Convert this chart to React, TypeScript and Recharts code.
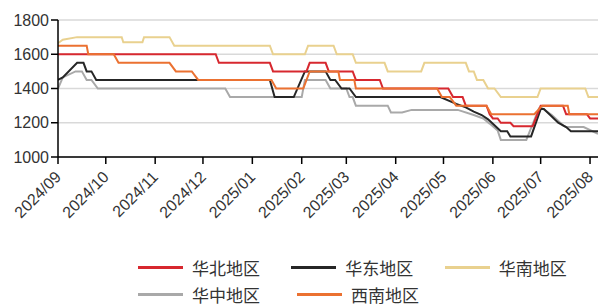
import { LineChart, Line, XAxis, YAxis, CartesianGrid, Legend } from "recharts";

type Pt = [string, number];

const monthLabels = [
  "2024/09", "2024/10", "2024/11", "2024/12", "2025/01", "2025/02",
  "2025/03", "2025/04", "2025/05", "2025/06", "2025/07", "2025/08",
];
const yTicks = [1000, 1200, 1400, 1600, 1800];
const startDate = "2024-09-01";
const endDate = "2025-08-06";

// 华北地区
const huabei: Pt[] = [
  ["2024-09-01", 1600], ["2024-12-09", 1600], ["2024-12-11", 1550], ["2025-01-12", 1550],
  ["2025-01-14", 1500], ["2025-02-04", 1500], ["2025-02-06", 1550], ["2025-02-16", 1550],
  ["2025-02-18", 1500], ["2025-03-05", 1500], ["2025-03-07", 1450], ["2025-03-22", 1450],
  ["2025-03-24", 1400], ["2025-05-04", 1400], ["2025-05-07", 1350], ["2025-05-13", 1350],
  ["2025-05-15", 1300], ["2025-05-28", 1300], ["2025-05-30", 1250], ["2025-06-01", 1225],
  ["2025-06-04", 1225], ["2025-06-06", 1200], ["2025-06-12", 1200], ["2025-06-14", 1180],
  ["2025-06-26", 1180], ["2025-07-01", 1300], ["2025-07-15", 1300], ["2025-07-17", 1250],
  ["2025-07-30", 1250], ["2025-08-01", 1225], ["2025-08-06", 1225],
];

// 华东地区
const huadong: Pt[] = [
  ["2024-09-01", 1450], ["2024-09-04", 1465], ["2024-09-13", 1550], ["2024-09-17", 1550],
  ["2024-09-19", 1500], ["2024-09-22", 1500], ["2024-09-25", 1450], ["2025-01-12", 1450],
  ["2025-01-15", 1350], ["2025-01-27", 1350], ["2025-02-03", 1500], ["2025-02-16", 1500],
  ["2025-02-19", 1450], ["2025-02-22", 1450], ["2025-02-26", 1400], ["2025-03-03", 1400],
  ["2025-03-07", 1350], ["2025-04-29", 1350], ["2025-05-09", 1310], ["2025-05-15", 1290],
  ["2025-05-20", 1265], ["2025-05-25", 1245], ["2025-05-29", 1220], ["2025-06-02", 1185],
  ["2025-06-06", 1150], ["2025-06-10", 1150], ["2025-06-12", 1120], ["2025-06-25", 1120],
  ["2025-07-01", 1280], ["2025-07-03", 1280], ["2025-07-07", 1245], ["2025-07-12", 1200],
  ["2025-07-17", 1175], ["2025-07-20", 1150], ["2025-08-06", 1150],
];

// 华南地区
const huanan: Pt[] = [
  ["2024-09-01", 1665], ["2024-09-04", 1685], ["2024-09-13", 1700], ["2024-10-11", 1700],
  ["2024-10-12", 1670], ["2024-10-24", 1670], ["2024-10-25", 1700], ["2024-11-10", 1700],
  ["2024-11-13", 1650], ["2025-01-12", 1650], ["2025-01-14", 1600], ["2025-02-03", 1600],
  ["2025-02-05", 1650], ["2025-02-21", 1650], ["2025-02-23", 1600], ["2025-03-05", 1600],
  ["2025-03-07", 1550], ["2025-03-25", 1550], ["2025-03-27", 1500], ["2025-04-17", 1500],
  ["2025-04-19", 1550], ["2025-05-15", 1550], ["2025-05-17", 1500], ["2025-05-20", 1500],
  ["2025-05-22", 1450], ["2025-05-26", 1450], ["2025-05-29", 1400], ["2025-06-02", 1400],
  ["2025-06-06", 1350], ["2025-06-29", 1350], ["2025-07-01", 1400], ["2025-07-29", 1400],
  ["2025-07-31", 1350], ["2025-08-06", 1350],
];

// 华中地区
const huazhong: Pt[] = [
  ["2024-09-01", 1400], ["2024-09-04", 1465], ["2024-09-12", 1500], ["2024-09-16", 1500],
  ["2024-09-19", 1450], ["2024-09-22", 1450], ["2024-09-26", 1400], ["2024-12-15", 1400],
  ["2024-12-18", 1350], ["2025-02-01", 1350], ["2025-02-03", 1450], ["2025-02-16", 1450],
  ["2025-02-19", 1400], ["2025-03-01", 1400], ["2025-03-03", 1350], ["2025-03-05", 1350],
  ["2025-03-07", 1300], ["2025-03-27", 1300], ["2025-03-29", 1260], ["2025-04-05", 1260],
  ["2025-04-11", 1275], ["2025-05-10", 1275], ["2025-05-20", 1245], ["2025-05-26", 1225],
  ["2025-05-30", 1195], ["2025-06-04", 1155], ["2025-06-06", 1100], ["2025-06-22", 1100],
  ["2025-06-30", 1285], ["2025-07-02", 1285], ["2025-07-08", 1245], ["2025-07-15", 1185],
  ["2025-07-17", 1175], ["2025-07-28", 1175], ["2025-08-06", 1135],
];

// 西南地区
const xinan: Pt[] = [
  ["2024-09-01", 1650], ["2024-09-19", 1650], ["2024-09-20", 1600], ["2024-10-06", 1600],
  ["2024-10-09", 1550], ["2024-11-10", 1550], ["2024-11-14", 1500], ["2024-11-24", 1500],
  ["2024-11-28", 1450], ["2025-01-13", 1450], ["2025-01-16", 1400], ["2025-02-02", 1400],
  ["2025-02-06", 1500], ["2025-02-24", 1500], ["2025-02-25", 1450], ["2025-03-06", 1450],
  ["2025-03-07", 1400], ["2025-04-27", 1400], ["2025-04-30", 1350], ["2025-05-05", 1350],
  ["2025-05-09", 1300], ["2025-05-28", 1300], ["2025-05-31", 1250], ["2025-06-27", 1250],
  ["2025-07-02", 1300], ["2025-07-18", 1300], ["2025-07-19", 1250], ["2025-08-06", 1250],
];

const toT = (d: string) => Date.parse(d);
const toRows = (pts: Pt[]) => pts.map(([d, v]) => ({ t: toT(d), v }));

// legend order, draw order below is different so orange ends up on top
const series = [
  { name: "华北地区", color: "#D7282F", pts: huabei },
  { name: "华东地区", color: "#262626", pts: huadong },
  { name: "华南地区", color: "#E9D18F", pts: huanan },
  { name: "华中地区", color: "#A9A9A9", pts: huazhong },
  { name: "西南地区", color: "#EB7131", pts: xinan },
];
const drawOrder = [3, 1, 0, 2, 4];

const monthTicks = monthLabels.map((m) => toT(m.replace("/", "-") + "-01"));
const labelFor = (t: number) => monthLabels[monthTicks.indexOf(t)] ?? "";

const font = "'Liberation Sans', Arial, sans-serif";

function MonthTick(props: any) {
  const { x, y, payload } = props;
  const ax = x + 4;
  const ay = y + 12;
  return (
    <text
      x={ax}
      y={ay}
      textAnchor="end"
      transform={`rotate(-45, ${ax}, ${ay})`}
      fontSize={16}
      fontFamily={font}
      fill="#333"
    >
      {labelFor(payload.value)}
    </text>
  );
}

function LegendBox() {
  const rows = [series.slice(0, 3), series.slice(3)];
  return (
    <div style={{ height: 52, fontFamily: "'Noto Sans CJK SC', sans-serif", fontSize: 17, color: "#333" }}>
      {rows.map((row, ri) => (
        <div key={ri} style={{ display: "flex", height: 27, alignItems: "center", paddingLeft: 138 }}>
          {row.map((s) => (
            <div key={s.name} style={{ display: "flex", alignItems: "center", width: 159 }}>
              <span style={{ display: "inline-block", width: 45, height: 2.5, background: s.color, marginRight: 9 }} />
              <span style={{ lineHeight: "20px" }}>{s.name}</span>
            </div>
          ))}
        </div>
      ))}
    </div>
  );
}

export default function App() {
  return (
    <div>
      <style>{"body{margin:0}"}</style>
      <LineChart width={598} height={306} margin={{ top: 20, right: 0, left: 0, bottom: 0 }}>
        <CartesianGrid vertical={false} stroke="#D9D9D9" strokeWidth={1.3} />
        <XAxis
          dataKey="t"
          type="number"
          domain={[toT(startDate), toT(endDate)]}
          ticks={monthTicks}
          interval={0}
          tick={<MonthTick />}
          tickSize={7}
          stroke="#000"
          strokeWidth={1.5}
          height={97}
          allowDataOverflow
        />
        <YAxis
          domain={[1000, 1800]}
          ticks={yTicks}
          width={58}
          tickSize={7}
          stroke="#000"
          strokeWidth={1.5}
          tick={{ fontSize: 16, fill: "#333", fontFamily: font }}
          allowDataOverflow
        />
        <Legend verticalAlign="bottom" content={() => <LegendBox />} />
        {drawOrder.map((i) => {
          const s = series[i];
          return (
            <Line
              key={s.name}
              data={toRows(s.pts)}
              dataKey="v"
              name={s.name}
              type="linear"
              stroke={s.color}
              strokeWidth={2}
              dot={false}
              activeDot={false}
              isAnimationActive={false}
            />
          );
        })}
      </LineChart>
    </div>
  );
}
